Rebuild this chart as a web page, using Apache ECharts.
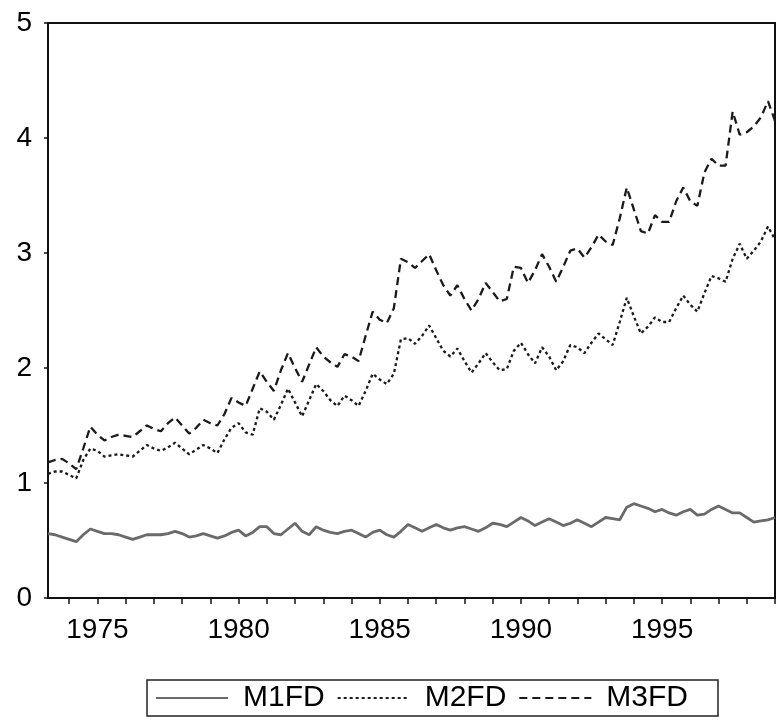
<!DOCTYPE html>
<html>
<head>
<meta charset="utf-8">
<script src="https://cdn.jsdelivr.net/npm/echarts@6/dist/echarts.min.js"></script>
<style>
html,body{margin:0;padding:0;background:#fff;}
#chart{width:779px;height:728px;}
</style>
</head>
<body>
<div id="chart"></div>
<script>
// Quarterly sample 1973Q2 .. 1999Q1
const startYear = 1973, startQuarter = 2, nObs = 104;
const quarters = [];
for (let i = 0; i < nObs; i++) {
  const k = startQuarter - 1 + i;
  quarters.push((startYear + Math.floor(k / 4)) + 'Q' + (k % 4 + 1));
}

const m1fd = [0.56,0.55,0.53,0.51,0.49,0.55,0.60,0.58,0.56,0.56,0.55,0.53,0.51,0.53,0.55,0.55,
  0.55,0.56,0.58,0.56,0.53,0.54,0.56,0.54,0.52,0.54,0.57,0.59,0.54,0.57,0.62,0.62,
  0.56,0.55,0.60,0.65,0.58,0.55,0.62,0.59,0.57,0.56,0.58,0.59,0.56,0.53,0.57,0.59,
  0.55,0.53,0.58,0.64,0.61,0.58,0.61,0.64,0.61,0.59,0.61,0.62,0.60,0.58,0.61,0.65,
  0.64,0.62,0.66,0.70,0.67,0.63,0.66,0.69,0.66,0.63,0.65,0.68,0.65,0.62,0.66,0.70,
  0.69,0.68,0.79,0.82,0.80,0.78,0.75,0.77,0.74,0.72,0.75,0.77,0.72,0.73,0.77,0.80,
  0.77,0.74,0.74,0.70,0.66,0.67,0.68,0.70];

const m2fd = [1.08,1.10,1.10,1.07,1.04,1.20,1.30,1.28,1.23,1.24,1.25,1.24,1.23,1.28,1.33,1.30,
  1.28,1.31,1.35,1.30,1.25,1.29,1.33,1.30,1.26,1.38,1.48,1.52,1.44,1.42,1.65,1.62,
  1.55,1.68,1.82,1.70,1.58,1.72,1.86,1.80,1.72,1.67,1.76,1.72,1.67,1.80,1.95,1.90,
  1.86,1.95,2.25,2.26,2.21,2.28,2.37,2.26,2.15,2.10,2.17,2.06,1.96,2.04,2.13,2.05,
  1.98,1.99,2.15,2.22,2.12,2.04,2.18,2.10,1.98,2.06,2.20,2.18,2.13,2.22,2.30,2.25,
  2.20,2.40,2.61,2.45,2.30,2.36,2.44,2.40,2.40,2.52,2.63,2.55,2.49,2.65,2.80,2.78,
  2.75,2.95,3.08,2.95,3.02,3.10,3.23,3.12];

const m3fd = [1.18,1.20,1.21,1.17,1.12,1.30,1.49,1.42,1.37,1.40,1.42,1.41,1.40,1.45,1.50,1.47,
  1.45,1.52,1.57,1.50,1.43,1.48,1.55,1.52,1.50,1.60,1.74,1.70,1.67,1.82,1.97,1.88,
  1.80,1.98,2.13,2.00,1.88,2.03,2.18,2.10,2.05,2.01,2.12,2.10,2.06,2.28,2.49,2.42,
  2.39,2.52,2.95,2.92,2.87,2.93,2.99,2.85,2.72,2.63,2.72,2.60,2.50,2.60,2.74,2.66,
  2.58,2.60,2.88,2.87,2.74,2.85,2.99,2.88,2.75,2.88,3.02,3.04,2.96,3.05,3.16,3.10,
  3.07,3.30,3.57,3.38,3.19,3.17,3.33,3.27,3.27,3.45,3.57,3.45,3.41,3.70,3.82,3.76,
  3.76,4.23,4.03,4.05,4.10,4.18,4.32,4.15];

const yTicks = [0,1,2,3,4,5];
const labelYears = [1975,1980,1985,1990,1995];

const FONT = '"Liberation Sans", Arial, sans-serif';
const chart = echarts.init(document.getElementById('chart'));
chart.setOption({
  backgroundColor: '#ffffff',
  animation: false,
  grid: { left: 48, right: 4, top: 23, bottom: 130, show: true, borderColor: '#111', borderWidth: 2 },
  legend: {
    left: 147, top: 680,
    itemWidth: 72, itemHeight: 14, itemGap: 12,
    padding: [3, 30, 3, 8],
    borderColor: '#222', borderWidth: 1.5,
    itemStyle: { opacity: 0 },
    textStyle: { fontFamily: FONT, fontSize: 30, color: '#000', padding: [0, 0, 0, 10] },
    data: ['M1FD', 'M2FD', 'M3FD']
  },
  xAxis: {
    type: 'category',
    data: quarters,
    boundaryGap: false,
    axisLine: { lineStyle: { color: '#111', width: 2 } },
    axisTick: {
      length: 6, lineStyle: { color: '#111', width: 1.5 },
      interval: function (i, v) { return v.slice(-2) === 'Q1'; }
    },
    axisLabel: {
      fontFamily: FONT, fontSize: 28, color: '#000', margin: 18,
      interval: function (i, v) { return v.slice(-2) === 'Q1' && labelYears.indexOf(+v.slice(0, 4)) >= 0; },
      formatter: function (v) { return v.slice(0, 4); }
    },
    splitLine: { show: false }
  },
  yAxis: {
    type: 'value',
    min: yTicks[0], max: yTicks[yTicks.length - 1], interval: 1,
    axisLine: { show: true, lineStyle: { color: '#111', width: 2 } },
    axisTick: { show: true, length: 4, lineStyle: { color: '#111', width: 1.5 } },
    axisLabel: { fontFamily: FONT, fontSize: 28, color: '#000', margin: 16 },
    splitLine: { show: false }
  },
  series: [
    { name: 'M1FD', type: 'line', data: m1fd, symbol: 'none',
      lineStyle: { color: '#6a6a6a', width: 2.8, type: 'solid' }, itemStyle: { color: '#6a6a6a' } },
    { name: 'M2FD', type: 'line', data: m2fd, symbol: 'none',
      lineStyle: { color: '#1a1a1a', width: 2.3, type: [3, 3] }, itemStyle: { color: '#1a1a1a' } },
    { name: 'M3FD', type: 'line', data: m3fd, symbol: 'none',
      lineStyle: { color: '#1a1a1a', width: 2.3, type: [8, 5] }, itemStyle: { color: '#1a1a1a' } }
  ]
});
</script>
</body>
</html>
